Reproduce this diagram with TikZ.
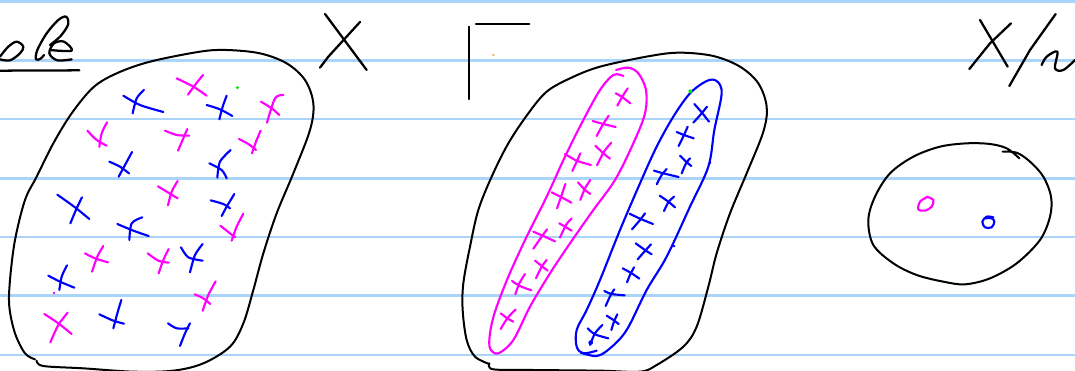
\documentclass[tikz,border=0pt]{standalone}
\usepackage{tikz}
\definecolor{ruleblue}{RGB}{170,212,250}
\definecolor{inkpink}{RGB}{255,0,255}
\definecolor{inkblue}{RGB}{0,0,255}
\definecolor{inkgreen}{RGB}{0,230,0}
\definecolor{inkorange}{RGB}{255,170,60}
\tikzset{
  ruleline/.style={ruleblue,line width=2pt},
  blackpen/.style={black,line width=1.7pt,line cap=round,line join=round},
  thinpen/.style={black,line width=1.5pt,line cap=round,line join=round},
  pinkpen/.style={inkpink,line width=1.6pt,line cap=round,line join=round},
  bluepen/.style={inkblue,line width=1.6pt,line cap=round,line join=round}
}
\newcommand{\inkstroke}[2]{\draw[#1] plot[smooth,tension=0.55] coordinates {#2};}

\begin{document}
\begin{tikzpicture}[x=0.25pt,y=-0.25pt]
         \useasboundingbox (0,0) rectangle (3225,1113);
         \clip (0,0) rectangle (3225,1113);
         \fill[white] (0,0) rectangle (3225,1113);
         \foreach \yy in {5,181,357,535,711,887,1065}
            \draw[ruleline] (0,\yy) -- (3225,\yy);

         % left set
         \inkstroke{blackpen}{(0,178) (30,181) (60,160) (70,140) (50,125) (25,140) (0,170)}
         \inkstroke{blackpen}{(132,165) (122,176) (108,178) (112,150) (140,100) (175,60) (198,50) (205,72) (182,108) (150,135)}
         \inkstroke{blackpen}{(150,150) (215,152) (192,125) (162,130) (148,160) (172,181) (215,178)}
         \draw[blackpen] (0,212) -- (238,211);
         \draw[blackpen] (975,42) -- (1100,210);
         \draw[blackpen] (960,203) -- (985,170) -- (1080,66);
         \inkstroke{thinpen}{(105,1078) (75,1060) (45,1000) (28,920) (30,840) (45,720) (75,600) (110,530) (160,430) (215,340) (280,262) (350,220) (450,185) (600,155) (680,150) (780,160) (860,190) (915,240) (940,310) (930,390) (880,520) (830,640) (790,760) (760,870) (730,970) (690,1040) (610,1090) (520,1112) (400,1115) (250,1105) (130,1098) (110,1082)}
         \foreach \xa/\ya/\xb/\yb/\xc/\yc in {
            370/287/420/315/490/336, 432/270/410/295/398/340,
            620/315/660/328/697/348, 680/287/668/320/658/358,
            328/485/360/500/387/520, 396/456/375/495/356/530,
            628/490/665/510/680/535, 692/450/660/485/652/533,
            172/584/225/622/268/657, 246/592/230/625/211/670,
            632/601/670/612/690/625, 703/582/680/620/665/648,
            352/672/400/692/446/708, 427/652/395/670/388/720,
            543/742/565/772/608/782, 608/732/585/765/570/817,
            145/827/180/845/223/863, 201/796/185/830/178/870,
            298/943/340/962/372/971, 364/900/352/940/340/985,
            504/970/530/985/565/985, 570/970/555/1000/540/1038}
            \draw[bluepen] plot[smooth] coordinates {(\xa,\ya) (\xb,\yb) (\xc,\yc)};
         \foreach \xa/\ya/\xb/\yb/\xc/\yc in {
            530/235/580/260/620/287, 609/225/585/255/564/284,
            783/305/815/325/838/345, 850/285/825/295/801/368,
            262/392/290/420/320/437, 321/367/305/400/298/441,
            495/392/530/405/568/407, 562/387/550/415/534/452,
            717/417/745/432/768/450, 782/392/768/425/756/460,
            474/559/505/578/533/595, 533/543/515/575/504/616,
            661/677/690/700/706/712, 730/641/710/680/695/722,
            255/760/285/775/324/787, 310/738/292/770/276/815,
            443/760/475/782/506/788, 506/747/490/780/476/820,
            584/883/610/895/631/912, 647/844/625/885/608/932,
            133/942/175/970/215/1002, 203/938/175/975/151/1027}
            \draw[pinkpen] plot[smooth] coordinates {(\xa,\ya) (\xb,\yb) (\xc,\yc)};
         \fill[inkpink] (162,879) circle (4);
         \fill[inkgreen] (712,263) circle (5);

         % middle set
         \begin{scope}[shift={(1350,0)}]
            \draw[blackpen] (58,80) -- (58,297);
            \draw[blackpen] (78,72) -- (238,72);
            \fill[inkorange] (130,165) circle (4);
            \inkstroke{thinpen}{(118,1092) (75,1070) (50,1020) (38,930) (40,850) (60,740) (85,630) (125,530) (175,430) (235,340) (290,275) (360,235) (450,200) (600,168) (690,158) (790,168) (870,200) (925,250) (950,320) (940,395) (890,520) (840,640) (800,760) (775,860) (740,980) (700,1040) (620,1095) (570,1115) (450,1112) (250,1110) (130,1108) (118,1090)}
            \inkstroke{pinkpen}{(498,210) (535,203) (565,220) (588,270) (585,340) (550,430) (495,540) (430,630) (360,730) (300,820) (240,920) (190,1020) (145,1060) (120,1045) (120,1000) (135,935) (175,830) (230,710) (290,590) (345,470) (400,360) (450,270) (490,225) (520,228)}
            \inkstroke{bluepen}{(392,1058) (440,1068) (480,1045) (530,990) (590,870) (650,770) (720,620) (775,500) (793,390) (815,280) (800,243) (770,243) (720,280) (670,350) (620,440) (570,550) (510,690) (450,840) (410,930) (380,990) (380,1040) (400,1060) (440,1052)}
            \foreach \xa/\ya/\xb/\yb/\xc/\yc in {
               497/280/515/290/541/310, 533/265/520/285/502/317,
               428/363/460/372/497/381, 476/347/458/375/440/408,
               436/437/460/460/480/476, 484/428/462/455/441/496,
               345/462/380/482/423/495, 391/460/380/485/367/513,
               384/547/405/570/421/582, 421/540/405/565/391/600,
               305/577/335/592/364/608, 346/552/335/585/321/625,
               328/670/345/680/365/692, 365/655/348/675/330/713,
               250/695/280/708/315/724, 291/688/275/710/250/746,
               255/782/275/798/293/812, 290/780/275/800/258/835,
               186/843/210/858/244/871, 225/822/208/850/196/883,
               152/940/172/955/190/965, 197/928/172/955/152/987}
               \draw[pinkpen] plot[smooth] coordinates {(\xa,\ya) (\xb,\yb) (\xc,\yc)};
            \foreach \xa/\ya/\xb/\yb/\xc/\yc in {
               733/312/755/337/777/365, 771/320/755/340/730/368,
               680/396/702/405/731/415, 713/380/702/405/686/438,
               690/467/708/485/724/498, 720/475/708/490/695/520,
               612/512/640/520/686/531, 650/507/635/525/620/553,
               629/587/655/605/675/622, 672/590/655/607/642/633,
               539/641/570/656/609/672, 585/640/570/660/546/688,
               557/730/585/750/605/763, 603/733/583/755/563/778,
               518/805/545/820/568/836, 552/802/540/825/531/847,
               463/873/485/882/524/886, 493/868/482/885/467/918,
               470/947/490/960/506/972, 502/943/492/965/484/990,
               413/985/435/1003/475/1015, 457/975/435/1000/420/1035}
               \draw[bluepen] plot[smooth] coordinates {(\xa,\ya) (\xb,\yb) (\xc,\yc)};
            \fill[inkblue] (780,488) circle (4);
            \fill[inkblue] (672,738) circle (4);
            \fill[inkblue] (422,1028) circle (7);
            \fill[inkgreen] (721,274) circle (6);
         \end{scope}

         % quotient
         \begin{scope}[shift={(2550,0)}]
            \draw[blackpen] (390,60) -- (473,200);
            \draw[blackpen] (483,70) -- (420,130) -- (358,207);
            \draw[blackpen] (617,42) -- (540,150) -- (478,258);
            \inkstroke{blackpen}{(575,195) (590,170) (622,155) (615,205) (640,210) (675,180)}
            \inkstroke{thinpen}{(508,475) (470,445) (420,432) (350,430) (270,440) (190,470) (120,520) (75,590) (55,660) (70,735) (130,790) (200,825) (280,845) (345,853) (420,835) (500,790) (570,720) (600,650) (603,590) (580,530) (540,485) (500,458) (458,455)}
            \inkstroke{pinkpen}{(230,590) (250,600) (245,620) (225,632) (205,628) (210,605) (230,592)}
            \inkstroke{bluepen}{(430,652) (410,650) (397,665) (405,682) (425,682) (433,665) (425,655) (405,655)}
         \end{scope}
      \end{tikzpicture}
\end{document}
